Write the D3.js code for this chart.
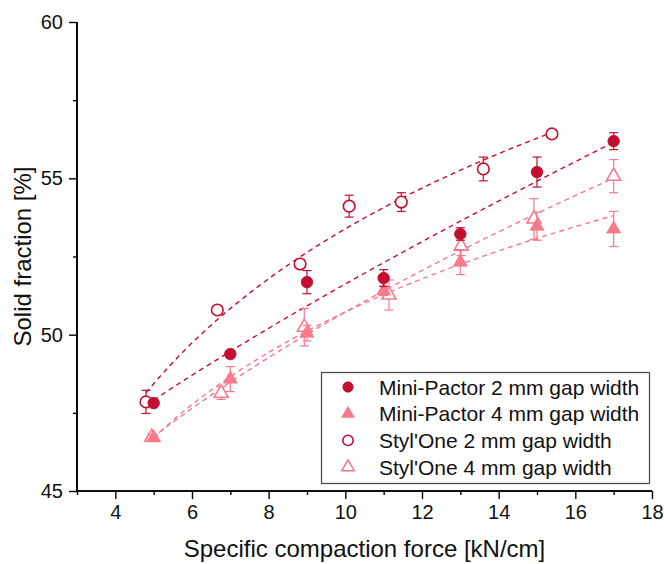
<!DOCTYPE html>
<html>
<head>
<meta charset="utf-8">
<script src="https://cdn.jsdelivr.net/npm/d3@7"></script>
<style>
  html, body { margin: 0; padding: 0; background: #fff; }
  svg { display: block; font-family: Arial, "Liberation Sans", sans-serif; }
</style>
</head>
<body>
<svg id="chart" width="664" height="564"></svg>
<script>
// Specific compaction force [kN/cm] and solid fraction [%] with standard deviations
const forceMP2 = [5, 7, 9, 11, 13, 15, 17];
const solidMP2 = [47.81, 49.38, 51.68, 51.81, 53.22, 55.20, 56.19];
const sdMP2    = [0.10, 0.10, 0.37, 0.27, 0.20, 0.48, 0.27];

const forceMP4 = [5, 7, 9, 11, 13, 15, 17];
const solidMP4 = [46.70, 48.58, 50.05, 51.40, 52.32, 53.47, 53.38];
const sdMP4    = [0.10, 0.40, 0.25, 0.15, 0.40, 0.45, 0.56];

const forceSO2 = [4.80, 6.66, 8.82, 10.10, 11.46, 13.60, 15.39];
const solidSO2 = [47.85, 50.79, 52.26, 54.11, 54.24, 55.30, 56.42];
const sdSO2    = [0.37, 0.10, 0.08, 0.35, 0.30, 0.38, 0.12];

const forceSO4 = [4.95, 6.76, 8.93, 11.14, 13.02, 14.92, 17.00];
const solidSO4 = [46.72, 48.13, 50.24, 51.27, 52.83, 53.70, 55.07];
const sdSO4    = [0.10, 0.20, 0.60, 0.48, 0.30, 0.65, 0.53];

const seriesNames = [
  "Mini-Pactor 2 mm gap width",
  "Mini-Pactor 4 mm gap width",
  "Styl'One 2 mm gap width",
  "Styl'One 4 mm gap width"
];

const xMajorTicks = [4, 6, 8, 10, 12, 14, 16, 18];
const xMinorTicks = [3, 5, 7, 9, 11, 13, 15, 17];
const yMajorTicks = [45, 50, 55, 60];
const yMinorTicks = [47.5, 52.5, 57.5];

const darkRed = "#c20e2f";
const pink = "#f77a8c";

const series = [
  { name: seriesNames[2], x: forceSO2, y: solidSO2, sd: sdSO2, color: darkRed, shape: "circle", filled: false },
  { name: seriesNames[3], x: forceSO4, y: solidSO4, sd: sdSO4, color: pink, shape: "triangle", filled: false },
  { name: seriesNames[1], x: forceMP4, y: solidMP4, sd: sdMP4, color: pink, shape: "triangle", filled: true },
  { name: seriesNames[0], x: forceMP2, y: solidMP2, sd: sdMP2, color: darkRed, shape: "circle", filled: true }
];

const svg = d3.select("#chart");
const plotLeft = 77, plotRight = 652, plotTop = 22, plotBottom = 491;

const x = d3.scaleLinear().domain([3, 18]).range([plotLeft, plotRight]);
const y = d3.scaleLinear().domain([45, 60]).range([plotBottom, plotTop]);

// Least-squares fit y = a + b * g(x), with g(x) = x^c (ln x when c = 0);
// the exponent c is scanned between the logarithmic and the linear case
function offsetPowerFit(xs, ys) {
  let best = null;
  for (let c = 0; c <= 1.0001; c += 0.01) {
    const g = c < 1e-9 ? (v => Math.log(v)) : (v => Math.pow(v, c));
    const gx = xs.map(g);
    const mg = d3.mean(gx), my = d3.mean(ys);
    let sgy = 0, sgg = 0;
    gx.forEach((v, i) => { sgy += (v - mg) * (ys[i] - my); sgg += (v - mg) * (v - mg); });
    const b = sgy / sgg, a = my - b * mg;
    const sse = d3.sum(gx, (v, i) => (a + b * v - ys[i]) ** 2);
    if (!best || sse < best.sse) best = { sse, f: v => a + b * g(v) };
  }
  return best.f;
}

const plot = svg.append("g");

// fitted trend curves
const line = d3.line().x(d => x(d[0])).y(d => y(d[1]));
series.forEach(s => {
  const f = offsetPowerFit(s.x, s.y);
  const x0 = d3.min(s.x), x1 = d3.max(s.x);
  const pts = d3.range(0, 61).map(i => { const v = x0 + (x1 - x0) * i / 60; return [v, f(v)]; });
  plot.append("path")
    .attr("d", line(pts))
    .attr("fill", "none")
    .attr("stroke", s.color)
    .attr("stroke-width", 1.4)
    .attr("stroke-dasharray", "5,4");
});

function drawMarker(g, s, cx, cy, scale) {
  const sym = d3.symbol()
    .type(s.shape === "circle" ? d3.symbolCircle : d3.symbolTriangle)
    .size((s.shape === "circle" ? 105 : 85) * scale);
  g.append("path")
    .attr("d", sym())
    .attr("transform", `translate(${cx},${cy})`)
    .attr("fill", s.filled ? s.color : "#fff")
    .attr("stroke", s.color)
    .attr("stroke-width", s.filled ? 0.8 : 1.6);
}

// error bars and markers
series.forEach(s => {
  const g = plot.append("g");
  s.x.forEach((xv, i) => {
    const cx = x(xv), yTop = y(s.y[i] + s.sd[i]), yBot = y(s.y[i] - s.sd[i]);
    g.append("line").attr("x1", cx).attr("x2", cx).attr("y1", yTop).attr("y2", yBot)
      .attr("stroke", s.color).attr("stroke-width", 1.2);
    [yTop, yBot].forEach(yy => g.append("line")
      .attr("x1", cx - 4.5).attr("x2", cx + 4.5).attr("y1", yy).attr("y2", yy)
      .attr("stroke", s.color).attr("stroke-width", 1.2));
  });
  s.x.forEach((xv, i) => drawMarker(g, s, x(xv), y(s.y[i]), 1));
});

// axes
const fontStack = "Arial, 'Liberation Sans', sans-serif";
const xAxis = svg.append("g").attr("transform", `translate(0,${plotBottom})`);
xAxis.call(d3.axisBottom(x).tickValues(xMinorTicks).tickSize(4).tickFormat(""));
xAxis.append("g").call(d3.axisBottom(x).tickValues(xMajorTicks).tickSize(8).tickPadding(6)
  .tickFormat(d3.format("d")));
xAxis.selectAll(".domain").attr("d", `M${plotLeft},0H${plotRight}`).attr("stroke-width", 1.6);
xAxis.selectAll("line").attr("stroke-width", 1.4);
xAxis.selectAll("text").attr("font-size", 20).attr("fill", "#111").attr("font-family", fontStack);

const yAxis = svg.append("g").attr("transform", `translate(${plotLeft},0)`);
yAxis.call(d3.axisLeft(y).tickValues(yMinorTicks).tickSize(4).tickFormat(""));
yAxis.append("g").call(d3.axisLeft(y).tickValues(yMajorTicks).tickSize(8).tickPadding(6)
  .tickFormat(d3.format("d")));
yAxis.selectAll(".domain").attr("d", `M0,${plotTop}V${plotBottom}`).attr("stroke-width", 1.6);
yAxis.selectAll("line").attr("stroke-width", 1.4);
yAxis.selectAll("text").attr("font-size", 20).attr("fill", "#111").attr("font-family", fontStack);

svg.append("text")
  .attr("x", (plotLeft + plotRight) / 2).attr("y", 557)
  .attr("text-anchor", "middle").attr("font-size", 24).attr("fill", "#111")
  .text("Specific compaction force [kN/cm]");

svg.append("text")
  .attr("transform", `translate(31,${(plotTop + plotBottom) / 2}) rotate(-90)`)
  .attr("text-anchor", "middle").attr("font-size", 24).attr("fill", "#111")
  .text("Solid fraction [%]");

// legend
const legend = svg.append("g");
legend.append("rect")
  .attr("x", 321.5).attr("y", 372.5).attr("width", 328).attr("height", 111)
  .attr("fill", "#fff").attr("stroke", "#444").attr("stroke-width", 1.2);
const legendOrder = [series[3], series[2], series[0], series[1]];
legendOrder.forEach((s, i) => {
  const cy = 387 + i * 26.7;
  drawMarker(legend, s, 348, cy, 0.8);
  legend.append("text")
    .attr("x", 379).attr("y", cy + 7.5)
    .attr("font-size", 21).attr("fill", "#111")
    .text(s.name);
});
</script>
</body>
</html>
